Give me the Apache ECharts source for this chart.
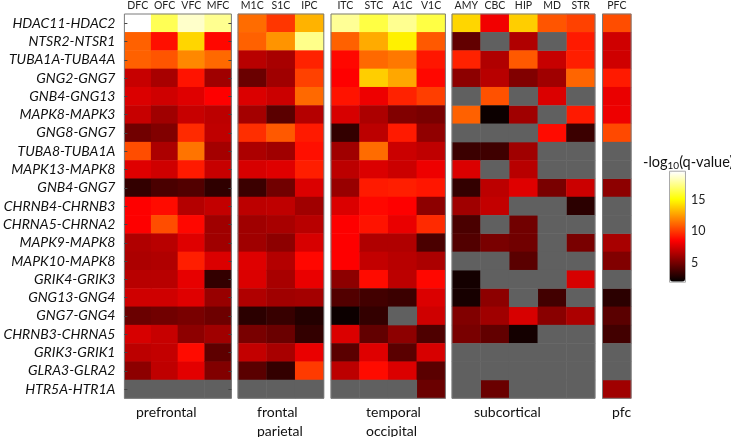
<!DOCTYPE html>
<html><head><meta charset="utf-8">
<script src="https://cdn.jsdelivr.net/npm/echarts@6/dist/echarts.min.js"></script>
<style>html,body{margin:0;padding:0;background:#fff}#c{width:731px;height:437px}</style>
</head><body><div id="c"></div>
<script>
const genePairs = ['HDAC11-HDAC2','NTSR2-NTSR1','TUBA1A-TUBA4A','GNG2-GNG7','GNB4-GNG13','MAPK8-MAPK3','GNG8-GNG7','TUBA8-TUBA1A','MAPK13-MAPK8','GNB4-GNG7','CHRNB4-CHRNB3','CHRNA5-CHRNA2','MAPK9-MAPK8','MAPK10-MAPK8','GRIK4-GRIK3','GNG13-GNG4','GNG7-GNG4','CHRNB3-CHRNA5','GRIK3-GRIK1','GLRA3-GLRA2','HTR5A-HTR1A'];

const groupNames = ['prefrontal','frontal\nparietal','temporal\noccipital','subcortical','pfc'];
const groupColumns = [['DFC','OFC','VFC','MFC'],['M1C','S1C','IPC'],['ITC','STC','A1C','V1C'],['AMY','CBC','HIP','MD','STR'],['PFC']];

// -log10(q-value) per column, one value per gene pair (null = not available)
const DFC = [19.4,11.0,11.0,7.1,7.6,7.1,4.9,10.5,7.7,3.3,8.5,8.5,6.5,6.4,6.7,7.3,4.7,7.5,6.8,5.6,null];
const OFC = [16.5,8.9,10.7,6.3,7.3,6.1,5.3,6.4,7.3,3.9,8.8,10.5,6.7,6.5,6.7,7.3,4.9,7.1,7.0,6.9,null];
const VFC = [18.5,14.0,12.0,9.0,7.7,7.1,9.6,11.5,9.2,4.1,6.6,8.7,7.7,9.3,7.9,7.7,5.1,5.6,8.8,7.8,null];
const MFC = [17.5,8.7,11.2,6.1,8.5,6.8,6.9,6.2,7.1,3.2,7.0,6.1,6.1,7.6,3.3,5.9,4.8,6.1,4.4,5.3,null];
const M1C = [11.3,11.0,6.7,4.7,7.6,6.2,9.7,6.4,7.5,3.5,6.8,6.1,6.1,7.7,7.6,6.5,3.1,5.1,7.0,4.3,null];
const S1C = [9.9,12.3,6.3,6.1,7.2,4.3,10.8,6.1,7.7,4.9,6.9,6.3,5.6,6.6,6.3,6.1,3.4,4.7,6.3,3.3,null];
const IPC = [13.1,17.4,9.4,10.2,11.2,6.6,9.2,8.9,9.3,7.6,6.1,6.7,7.5,8.7,8.0,6.2,2.9,3.3,8.0,10.0,null];
const ITC = [17.6,11.0,8.7,8.5,9.0,7.5,3.3,6.1,6.8,5.9,7.6,8.5,8.5,8.5,5.6,4.1,2.3,7.6,4.3,6.8,null];
const STC = [16.2,12.9,11.2,13.8,8.1,6.4,6.8,11.3,7.6,9.2,8.7,9.0,6.5,7.0,8.8,3.7,3.3,4.5,7.7,8.8,null];
const A1C = [17.5,14.7,11.6,12.8,9.4,5.3,9.2,7.2,7.2,9.3,8.5,8.0,6.5,6.7,6.8,3.5,null,5.6,4.3,7.6,null];
const V1C = [16.2,10.8,9.1,8.7,10.1,5.1,5.7,6.9,8.1,9.1,5.6,9.6,3.9,6.4,8.7,7.6,7.3,4.0,7.5,4.3,4.7];
const AMY = [14.0,4.5,9.4,5.6,null,11.0,null,3.5,7.6,3.3,6.1,3.9,4.1,null,2.5,2.6,5.3,5.1,null,null,null];
const CBC = [8.2,null,6.5,6.7,10.6,2.3,null,3.6,null,6.8,7.0,null,5.1,null,null,5.6,6.1,4.5,null,null,4.7];
const HIP = [13.8,6.5,10.8,5.3,null,6.1,null,6.1,6.7,7.7,null,4.9,4.9,4.3,null,null,7.5,2.5,null,null,null];
const MD  = [10.7,null,7.1,6.1,7.6,null,8.8,null,null,5.1,null,null,null,null,null,3.7,5.5,null,null,null,null];
const STR = [10.2,9.2,9.3,11.1,null,9.2,3.5,null,null,7.2,3.1,null,5.1,null,7.5,null,6.4,null,null,null,null];
const PFC = [10.5,7.3,7.3,9.2,8.0,8.1,10.4,null,null,5.6,null,null,6.3,5.3,null,3.1,4.3,3.7,null,null,6.1];

const columnValues = {DFC,OFC,VFC,MFC,M1C,S1C,IPC,ITC,STC,A1C,V1C,AMY,CBC,HIP,MD,STR,PFC};
const colorbarTicks = [5,10,15];
const vMin = 2, vMax = 19.4;

// layout
const gridLeft = [117, 238, 331, 452, 602.5];
const cellW = 28.6;
const gridTop = 13.3, gridH = 385;
const groupLabelX = [136, 257, 366, 474, 612];
const FONT = 'Lato';

const grids = [], xAxes = [], yAxes = [], series = [];
groupColumns.forEach((cols, g) => {
  grids.push({left: gridLeft[g], top: gridTop, width: cols.length * cellW, height: gridH,
    show: true, borderColor: '#7a7a7a', borderWidth: 1, backgroundColor: 'transparent', z: 10});
  xAxes.push({gridIndex: g, type: 'category', data: cols, position: 'top',
    axisLine: {show: false}, axisTick: {show: false}, splitLine: {show: false},
    axisLabel: {interval: 0, fontFamily: FONT, fontSize: 10.5, color: '#222', margin: 3}});
  yAxes.push({gridIndex: g, type: 'category', data: genePairs, inverse: true, z: 11,
    axisLine: {show: false}, splitLine: {show: false},
    axisTick: {show: g === 0, inside: true, length: 3, alignWithLabel: true, lineStyle: {color: '#444'}},
    axisLabel: {show: g === 0, interval: 0, fontFamily: FONT, fontStyle: 'italic', fontSize: 14, color: '#111', margin: 9}});
  const vals = [], miss = [];
  cols.forEach((c, ci) => {
    columnValues[c].forEach((v, ri) => {
      if (v === null) miss.push([ci, ri, 0]); else vals.push([ci, ri, v]);
    });
  });
  series.push({type: 'heatmap', xAxisIndex: g, yAxisIndex: g, data: vals, emphasis: {disabled: true}});
  series.push({type: 'heatmap', xAxisIndex: g, yAxisIndex: g, data: miss, itemStyle: {color: '#606060'}, emphasis: {disabled: true}});
});
// right-side ticks on first panel
yAxes.push({gridIndex: 0, type: 'category', data: genePairs, inverse: true, position: 'right', z: 11,
  axisLine: {show: false}, axisLabel: {show: false}, splitLine: {show: false},
  axisTick: {show: true, inside: true, length: 3, alignWithLabel: true, lineStyle: {color: '#444'}}});

const valueSeriesIdx = series.map((s, i) => i).filter(i => i % 2 === 0);

const barTop = 171.7, barH = 110, barLeft = 670, barW = 15;
const graphics = [];
groupNames.forEach((n, g) => {
  graphics.push({type: 'text', left: groupLabelX[g], top: 402.5,
    style: {text: n, fontFamily: FONT, fontSize: 14, lineHeight: 19, fill: '#111'}});
});
colorbarTicks.forEach(t => {
  const y = barTop + (vMax - t) / (vMax - vMin) * barH;
  graphics.push({type: 'text', x: 691, y: y, style: {text: String(t), fontFamily: FONT, fontSize: 12.5, fill: '#222', verticalAlign: 'middle'}});
});
graphics.push({type: 'text', x: 643, y: 154, style: {
  text: '-log{s|10}(q-value)', fontFamily: FONT, fontSize: 14.5, fill: '#111',
  rich: {s: {fontFamily: FONT, fontSize: 10, padding: [7, 0, 0, 0], fill: '#111'}}}});
graphics.push({type: 'rect', shape: {x: barLeft - 0.5, y: barTop - 0.5, width: barW + 1, height: barH + 1},
  style: {fill: 'none', stroke: '#aaa', lineWidth: 1}, z: 100});

const chart = echarts.init(document.getElementById('c'), null, {renderer: 'canvas'});
chart.setOption({
  animation: false,
  backgroundColor: '#fff',
  grid: grids, xAxis: xAxes, yAxis: yAxes, series: series,
  visualMap: {type: 'continuous', min: vMin, max: vMax, seriesIndex: valueSeriesIdx,
    orient: 'vertical', left: barLeft, top: barTop, padding: 0, itemWidth: barW, itemHeight: barH,
    calculable: false, text: null, showLabel: false,
    inRange: {color: ['#000000','#550000','#aa0000','#ff0000','#ff5500','#ffaa00','#ffff00','#ffff80','#ffffff']}},
  graphic: graphics
});
</script></body></html>
